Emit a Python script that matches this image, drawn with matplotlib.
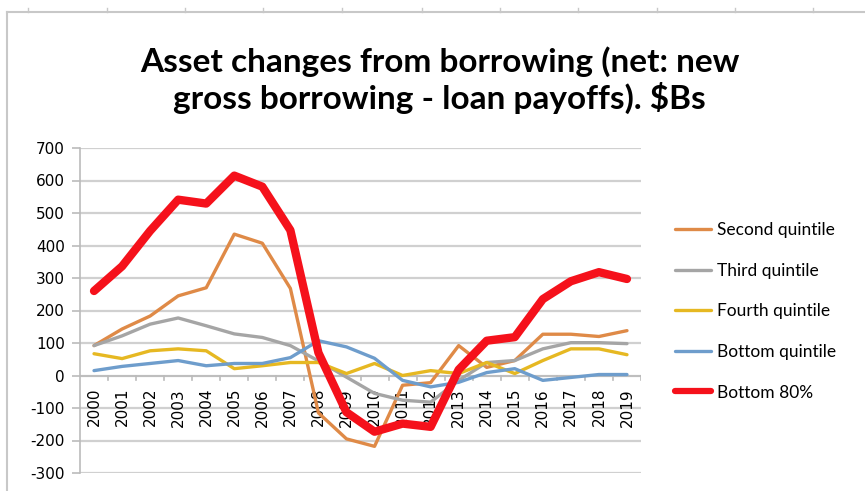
import numpy as np
import matplotlib
matplotlib.use("Agg")
import matplotlib.pyplot as plt
from matplotlib.lines import Line2D

# net asset change from borrowing, $Bs
years = list(range(2000, 2020))
second_q = [92, 143, 183, 245, 270, 435, 407, 268, -115, -195, -218, -30, -22, 92, 25, 46, 127, 127, 120, 138]
third_q = [92, 122, 158, 177, 153, 128, 117, 92, 45, -5, -55, -76, -82, -15, 40, 46, 82, 101, 101, 98]
fourth_q = [67, 52, 76, 82, 76, 21, 30, 40, 40, 6, 37, 0, 15, 6, 40, 6, 46, 82, 82, 64]
bottom_q = [15, 28, 37, 46, 30, 37, 37, 55, 107, 88, 53, -15, -35, -21, 9, 21, -15, -6, 3, 3]
bottom_80 = [260, 336, 445, 541, 529, 615, 581, 447, 70, -113, -173, -148, -158, 18, 107, 118, 235, 290, 318, 297]

labels = ["Second quintile", "Third quintile", "Fourth quintile", "Bottom quintile", "Bottom 80%"]
colors = ["#DF8A47", "#A5A5A5", "#E6B822", "#6E9DCC", "#F5111B"]
y_ticks = list(range(-300, 701, 100))

fig = plt.figure(figsize=(8.65, 4.91), dpi=100)
ax = fig.add_axes([80 / 865, 18 / 491, 561 / 865, 325 / 491])

x = np.arange(len(years))
series = [second_q, third_q, fourth_q, bottom_q, bottom_80]
widths = [2.4, 2.4, 2.4, 2.4, 6.0]
for vals, col, lw, lab in zip(series, colors, widths, labels):
    ax.plot(x, vals, color=col, lw=lw, label=lab, solid_capstyle="round",
            solid_joinstyle="round", zorder=3 if lw < 5 else 4)

ax.set_xlim(-0.5, len(years) - 0.5)
ax.set_ylim(-300, 700)
ax.set_yticks(y_ticks)
ax.set_yticklabels([str(v) for v in y_ticks], fontsize=11, family="DejaVu Sans")
ax.yaxis.grid(True, color="#D0D0D0", lw=1.6)
ax.set_axisbelow(True)
ax.tick_params(axis="y", length=6, width=1.2, color="#BBBBBB", pad=5)

for s in ["top", "right", "bottom"]:
    ax.spines[s].set_visible(False)
ax.spines["left"].set_color("#BBBBBB")
ax.spines["left"].set_linewidth(1.2)
ax.set_xticks([])

# category axis sits on the zero line
ax.axhline(0, color="#BBBBBB", lw=1.2, zorder=2)
for b in np.arange(0.5, len(years) - 0.5, 1.0):
    ax.plot([b, b], [0, -14], color="#BBBBBB", lw=1.2, zorder=2)
ax.plot([len(years) - 0.5] * 2, [0, -14], color="#BBBBBB", lw=1.2, zorder=2)
for i, yr in enumerate(years):
    ax.annotate(str(yr), (i, 0), xytext=(0, -9), textcoords="offset points",
                rotation=90, ha="center", va="top", fontsize=11,
                family="DejaVu Sans", zorder=2)

fig.text(0.508, 0.837, "Asset changes from borrowing (net: new\ngross borrowing - loan payoffs). $Bs",
         ha="center", va="center", fontsize=24, fontweight="bold", family="Lato",
         linespacing=1.2)

handles = [Line2D([], [], color=c, lw=(2.4 if i < 4 else 4.5), solid_capstyle="round")
           for i, c in enumerate(colors)]
fig.legend(handles, labels, loc="upper left", bbox_to_anchor=(668 / 865, 1 - 215 / 491),
           frameon=False, prop={"family": "Lato", "size": 12.5}, handlelength=2.1,
           handletextpad=0.3, labelspacing=1.42, borderaxespad=0)

# light sheet border
fig.add_artist(Line2D([7 / 865, 1], [1 - 12 / 491] * 2, color="#C8C8C8", lw=1.5))
fig.add_artist(Line2D([7 / 865] * 2, [0, 1 - 12 / 491], color="#C8C8C8", lw=1.5))
for cx in [28, 107, 185, 263, 342, 422, 500, 578, 657, 735, 813]:
    fig.add_artist(Line2D([cx / 865] * 2, [1 - 8 / 491, 1 - 12 / 491], color="#C8C8C8", lw=1))

fig.savefig("out.png", dpi=100)
